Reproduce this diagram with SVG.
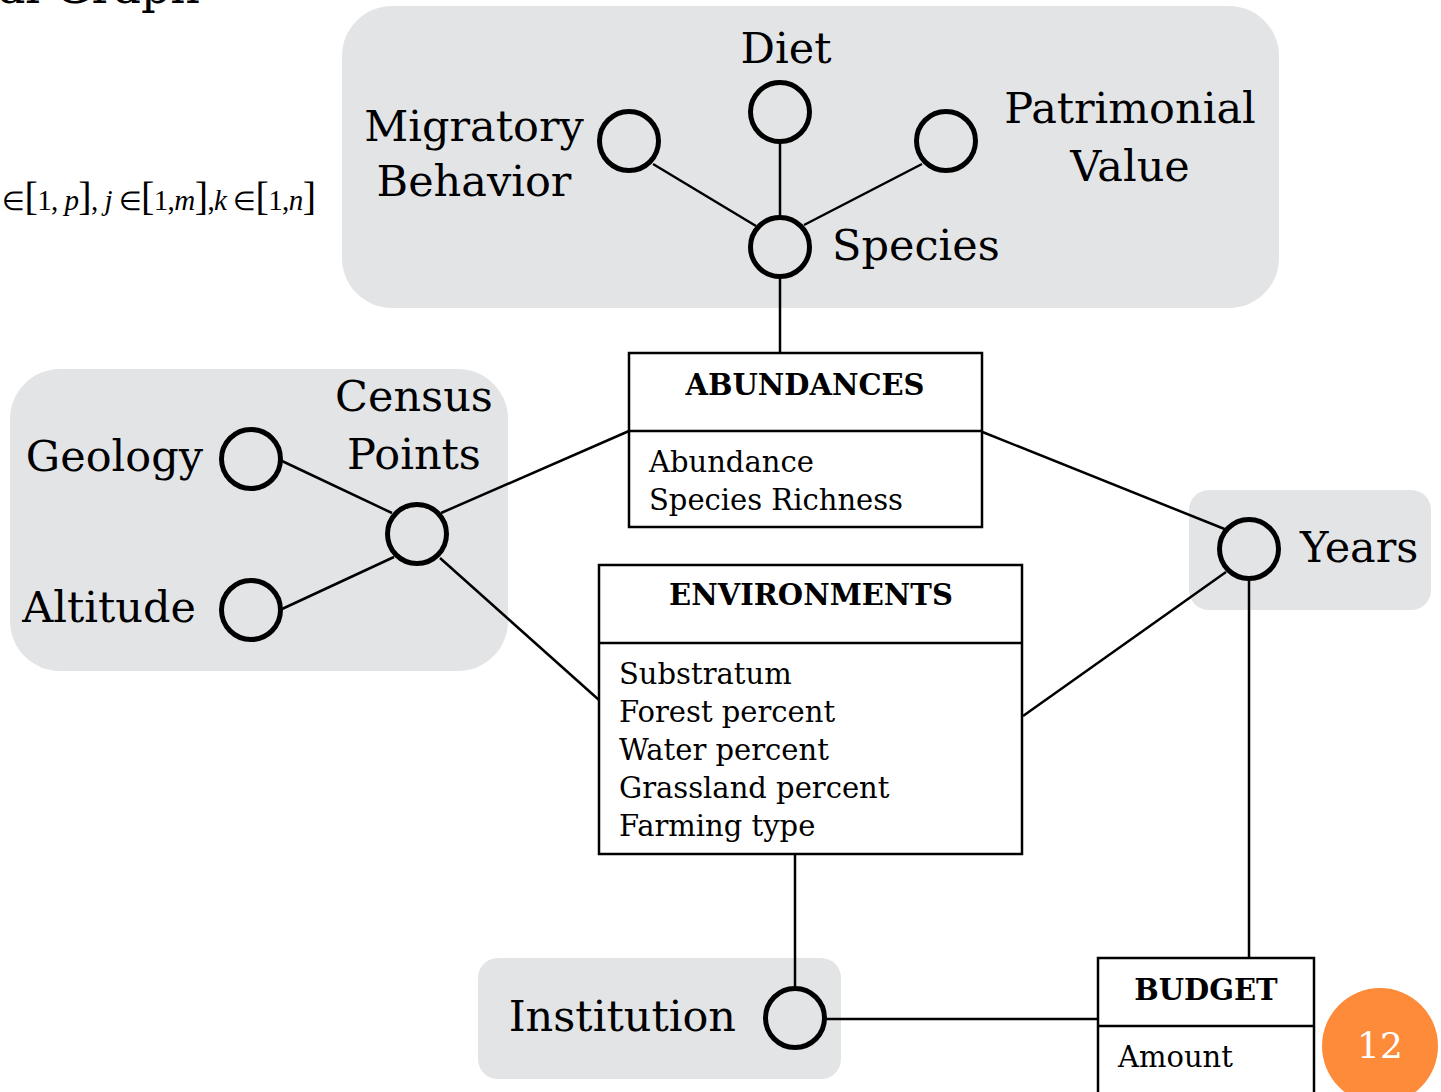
<svg xmlns="http://www.w3.org/2000/svg" width="1441" height="1092" viewBox="0 0 1441 1092">
  <style>
    .grp { fill: #e3e4e6; }
    .node { fill: none; stroke: #000; stroke-width: 5; }
    .edge { stroke: #000; stroke-width: 2.5; fill: none; }
    .box { fill: #fff; stroke: #000; stroke-width: 2.5; }
    .lbl { font-family: "DejaVu Serif", "Liberation Serif", serif; font-size: 43px; fill: #000; }
    .ttl { font-family: "DejaVu Serif", "Liberation Serif", serif; font-size: 29px; font-weight: bold; fill: #000; text-anchor: middle; }
    .att { font-family: "DejaVu Serif", "Liberation Serif", serif; font-size: 29px; fill: #000; }
    .math { font-family: "Liberation Serif", serif; font-size: 29px; fill: #000; }
    .math .br { font-size: 40px; }
    .math .el { font-size: 26px; }
    .math .v { font-style: italic; }
  </style>
  <rect width="1441" height="1092" fill="#fff"/>

  <!-- clipped slide title -->
  <text x="200" y="3" text-anchor="end" style="font-family:'DejaVu Serif',serif;font-size:46px">al Graph</text>

  <!-- dimension backgrounds -->
  <rect class="grp" x="342" y="6" width="937" height="302" rx="50"/>
  <rect class="grp" x="10" y="369" width="498" height="302" rx="50"/>
  <rect class="grp" x="1189" y="490" width="242" height="120" rx="20"/>
  <rect class="grp" x="478" y="958" width="363" height="121" rx="20"/>

  <!-- index ranges -->
  <text class="math" x="2" y="210" textLength="314" lengthAdjust="spacing"><tspan class="el">∈</tspan><tspan class="br">[</tspan>1, <tspan class="v">p</tspan><tspan class="br">]</tspan>, <tspan class="v">j</tspan> <tspan class="el">∈</tspan><tspan class="br">[</tspan>1,<tspan class="v">m</tspan><tspan class="br">]</tspan>,<tspan class="v">k</tspan> <tspan class="el">∈</tspan><tspan class="br">[</tspan>1,<tspan class="v">n</tspan><tspan class="br">]</tspan></text>

  <!-- connectors -->
  <g id="connectors">
    <line class="edge" x1="653" y1="164" x2="756" y2="226"/>
    <line class="edge" x1="780" y1="142" x2="780" y2="217"/>
    <line class="edge" x1="922" y1="164" x2="804" y2="225"/>
    <line class="edge" x1="780" y1="277" x2="780" y2="353"/>
    <line class="edge" x1="441" y1="513" x2="629" y2="431"/>
    <line class="edge" x1="282" y1="461" x2="392" y2="513"/>
    <line class="edge" x1="282" y1="609" x2="394" y2="557"/>
    <line class="edge" x1="440" y1="558" x2="599" y2="700"/>
    <line class="edge" x1="980" y1="431" x2="1227" y2="530"/>
    <line class="edge" x1="1023" y1="716" x2="1226" y2="572"/>
    <line class="edge" x1="1249" y1="580" x2="1249" y2="958"/>
    <line class="edge" x1="795" y1="855" x2="795" y2="988"/>
    <line class="edge" x1="826" y1="1019" x2="1098" y2="1019"/>
  </g>

  <!-- species dimension -->
  <g id="species">
    <circle class="node" cx="780" cy="247" r="29.5"/>
    <text class="lbl" x="832" y="260">Species</text>
  </g>
  <g id="migratory-behavior">
    <circle class="node" cx="629" cy="141" r="29.5"/>
    <text class="lbl" x="474" y="141" text-anchor="middle">Migratory</text>
    <text class="lbl" x="474" y="196" text-anchor="middle">Behavior</text>
  </g>
  <g id="diet">
    <circle class="node" cx="780" cy="112" r="29.5"/>
    <text class="lbl" x="786" y="63" text-anchor="middle">Diet</text>
  </g>
  <g id="patrimonial-value">
    <circle class="node" cx="946" cy="141" r="29.5"/>
    <text class="lbl" x="1130" y="123" text-anchor="middle">Patrimonial</text>
    <text class="lbl" x="1130" y="181" text-anchor="middle">Value</text>
  </g>

  <!-- census point dimension -->
  <g id="census-points">
    <circle class="node" cx="417" cy="534" r="29.5"/>
    <text class="lbl" x="414" y="411" text-anchor="middle">Census</text>
    <text class="lbl" x="414" y="469" text-anchor="middle">Points</text>
  </g>
  <g id="geology">
    <circle class="node" cx="251" cy="459" r="29.5"/>
    <text class="lbl" x="203" y="471" text-anchor="end">Geology</text>
  </g>
  <g id="altitude">
    <circle class="node" cx="251" cy="610" r="29.5"/>
    <text class="lbl" x="196" y="622" text-anchor="end">Altitude</text>
  </g>

  <!-- time dimension -->
  <g id="years">
    <circle class="node" cx="1249" cy="549" r="29.5"/>
    <text class="lbl" x="1300" y="562">Years</text>
  </g>

  <!-- institution dimension -->
  <g id="institution">
    <circle class="node" cx="795" cy="1018" r="29.5"/>
    <text class="lbl" x="736" y="1031" text-anchor="end">Institution</text>
  </g>

  <!-- fact tables -->
  <g id="abundances">
    <rect class="box" x="629" y="353" width="353" height="174"/>
    <line class="edge" x1="629" y1="431" x2="982" y2="431"/>
    <text class="ttl" x="805" y="395">ABUNDANCES</text>
    <text class="att" x="649" y="472">Abundance</text>
    <text class="att" x="649" y="510">Species Richness</text>
  </g>
  <g id="environments">
    <rect class="box" x="599" y="565" width="423" height="289"/>
    <line class="edge" x1="599" y1="643" x2="1022" y2="643"/>
    <text class="ttl" x="811" y="605">ENVIRONMENTS</text>
    <text class="att" x="619" y="684">Substratum</text>
    <text class="att" x="619" y="722">Forest percent</text>
    <text class="att" x="619" y="760">Water percent</text>
    <text class="att" x="619" y="798">Grassland percent</text>
    <text class="att" x="619" y="836">Farming type</text>
  </g>
  <g id="budget">
    <rect class="box" x="1098" y="958" width="216" height="150"/>
    <line class="edge" x1="1098" y1="1026" x2="1314" y2="1026"/>
    <text class="ttl" x="1206" y="1000">BUDGET</text>
    <text class="att" x="1118" y="1067">Amount</text>
  </g>

  <!-- page number badge -->
  <g id="page-number">
    <circle cx="1380" cy="1046" r="58" fill="#fd8b3a"/>
    <text x="1380" y="1058" text-anchor="middle" style="font-family:'DejaVu Serif',serif;font-size:36px;fill:#fff">12</text>
  </g>
</svg>
